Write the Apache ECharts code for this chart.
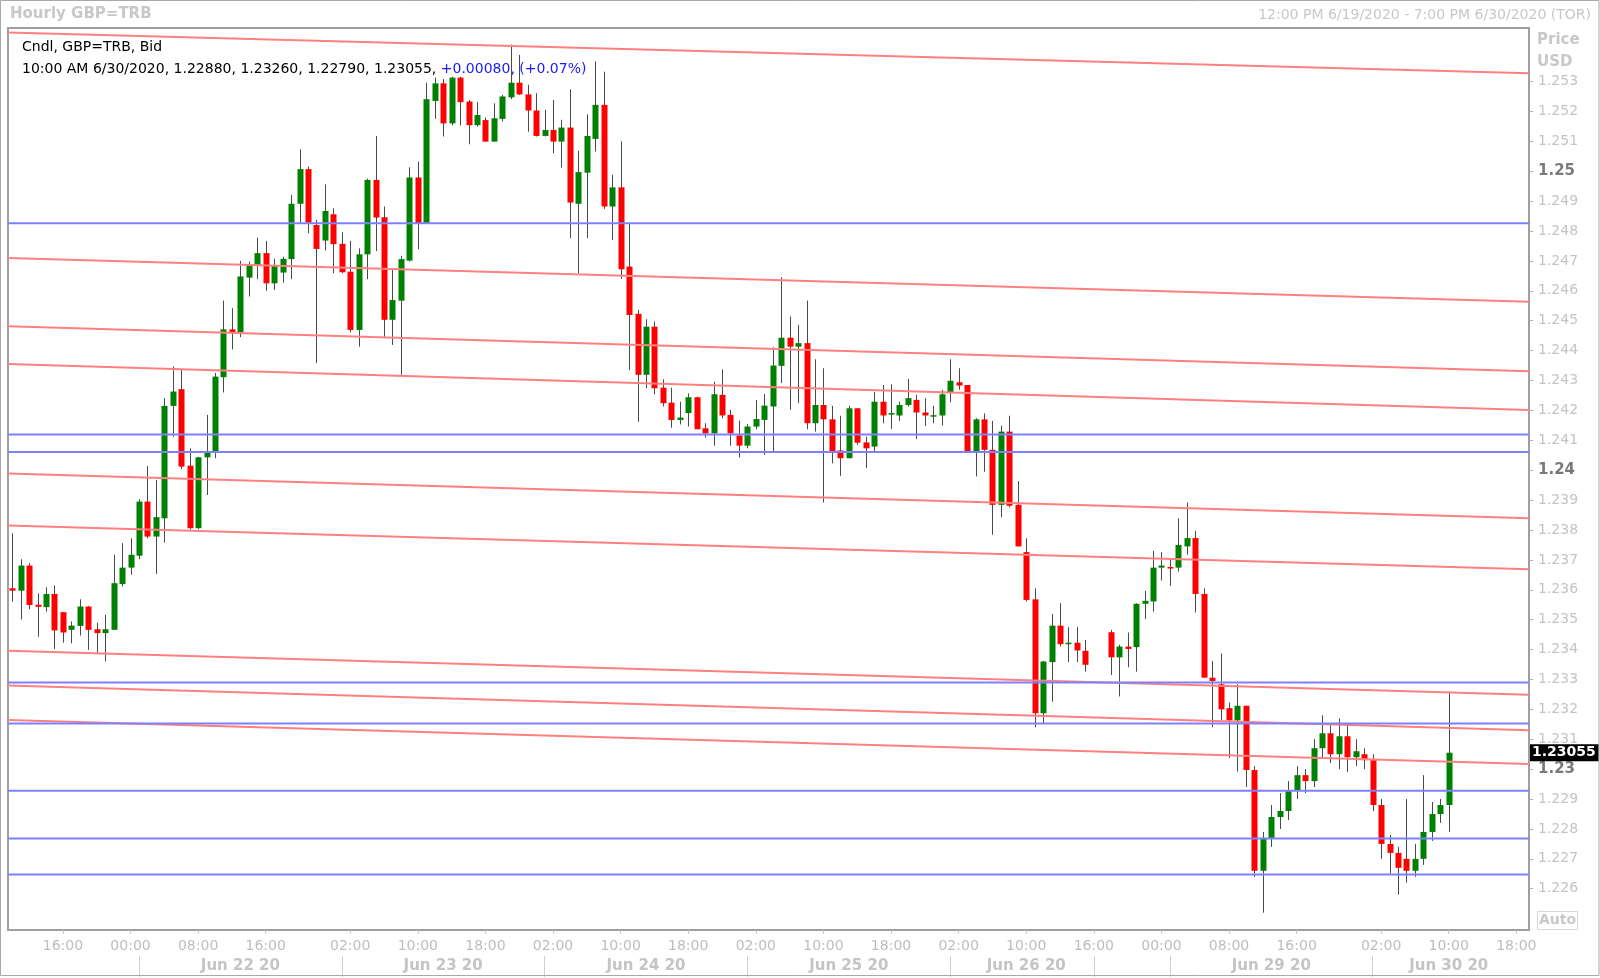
<!DOCTYPE html>
<html><head><meta charset="utf-8">
<script src="https://cdn.jsdelivr.net/npm/echarts@6/dist/echarts.min.js"></script>
<style>html,body{margin:0;padding:0;background:#fff}#c{width:1600px;height:978px}</style>
</head><body><div id="c"></div>
<script>
// ---- data (hourly slots; null = empty weekend slot) ----
const open = [
1.23605,1.23597,1.23681,1.23550,1.23542,1.23586,1.23525,1.23466,1.23479,1.23544,
1.23468,1.23455,1.23466,1.23619,1.23674,1.23714,1.23895,1.23778,1.23839,1.24215,
1.24271,1.24015,1.23806,1.24043,1.24059,1.24311,1.24471,1.24461,1.24644,1.24686,
1.24726,1.24625,1.24661,1.24706,1.24891,1.25007,1.24820,1.24768,1.24856,1.24757,
1.24664,1.24469,1.24722,1.24971,1.24846,1.24503,1.24567,1.24701,1.24979,1.24826,
1.25235,1.25294,1.25160,1.25313,1.25233,1.25154,1.25171,1.25099,1.25175,1.25247,
1.25296,1.25257,1.25203,1.25118,1.25138,1.25099,1.25146,1.24891,1.24995,1.25108,
1.25222,1.24882,1.24946,1.24681,1.24523,1.24319,1.24480,1.24276,1.24226,1.24168,
1.24191,1.24244,1.24140,1.24123,1.24252,1.24185,1.24116,1.24082,1.24146,1.24168,
1.24213,1.24349,1.24443,1.24413,1.24425,1.24157,1.24218,1.24170,1.24066,1.24040,
1.24207,1.24093,1.24079,1.24229,1.24190,1.24183,1.24218,1.24235,1.24193,1.24184,
1.24183,1.24261,1.24294,1.24285,1.24062,1.24170,1.24068,1.23884,1.24129,1.23884,
1.23726,1.23568,1.23187,1.23358,1.23480,1.23419,1.23423,1.23396,null,null,
1.23458,1.23374,1.23410,1.23408,1.23553,1.23561,1.23674,1.23676,1.23674,1.23745,
1.23773,1.23586,1.23306,1.23284,1.23204,1.23163,1.23212,1.22997,1.22660,1.22770,
1.22840,1.22860,1.22930,1.22980,1.22960,1.23070,1.23120,1.23050,1.23110,1.23040,
1.23050,1.23030,1.22880,1.22750,1.22720,1.22700,1.22660,1.22700,1.22790,1.22850,
1.22880];
const close = [
1.23597,1.23681,1.23549,1.23543,1.23586,1.23464,1.23457,1.23480,1.23544,1.23466,
1.23455,1.23468,1.23622,1.23674,1.23717,1.23895,1.23778,1.23843,1.24215,1.24263,
1.24012,1.23806,1.24043,1.24059,1.24313,1.24471,1.24460,1.24648,1.24686,1.24726,
1.24625,1.24686,1.24707,1.24891,1.25007,1.24828,1.24740,1.24867,1.24756,1.24662,
1.24469,1.24722,1.24971,1.24845,1.24503,1.24569,1.24706,1.24979,1.24826,1.25241,
1.25294,1.25160,1.25313,1.25231,1.25154,1.25188,1.25099,1.25177,1.25250,1.25296,
1.25257,1.25203,1.25118,1.25138,1.25099,1.25146,1.24895,1.24997,1.25118,1.25222,
1.24882,1.24946,1.24672,1.24519,1.24319,1.24480,1.24274,1.24224,1.24168,1.24176,
1.24244,1.24137,1.24123,1.24254,1.24183,1.24123,1.24082,1.24146,1.24171,1.24216,
1.24350,1.24443,1.24413,1.24425,1.24157,1.24218,1.24170,1.24062,1.24040,1.24207,
1.24092,1.24073,1.24229,1.24183,1.24191,1.24218,1.24241,1.24193,1.24183,1.24184,
1.24254,1.24299,1.24283,1.24062,1.24170,1.24068,1.23884,1.24129,1.23881,1.23745,
1.23566,1.23187,1.23360,1.23480,1.23418,1.23423,1.23397,1.23349,null,null,
1.23374,1.23410,1.23402,1.23553,1.23563,1.23674,1.23681,1.23675,1.23750,1.23773,
1.23586,1.23306,1.23295,1.23200,1.23163,1.23212,1.22997,1.22660,1.22770,1.22840,
1.22860,1.22930,1.22980,1.22960,1.23070,1.23120,1.23050,1.23110,1.23040,1.23060,
1.23030,1.22880,1.22750,1.22720,1.22670,1.22660,1.22700,1.22790,1.22850,1.22880,
1.23055];
const low = [
1.23560,1.23501,1.23535,1.23443,1.23527,1.23402,1.23423,1.23421,1.23447,1.23399,
1.23388,1.23360,1.23466,1.23611,1.23650,1.23702,1.23772,1.23653,1.23758,1.24112,
1.24004,1.23802,1.23802,1.23917,1.24040,1.24260,1.24404,1.24445,1.24581,1.24639,
1.24600,1.24603,1.24627,1.24639,1.24828,1.24792,1.24358,1.24735,1.24659,1.24659,
1.24461,1.24413,1.24639,1.24733,1.24445,1.24419,1.24319,1.24698,1.24739,1.24826,
1.25175,1.25116,1.25153,1.25153,1.25090,1.25149,1.25099,1.25099,1.25166,1.25241,
1.25255,1.25132,1.25116,1.25116,1.25060,1.25012,1.24776,1.24659,1.24776,1.25066,
1.24874,1.24770,1.24640,1.24335,1.24162,1.24274,1.24254,1.24213,1.24142,1.24153,
1.24146,1.24137,1.24109,1.24082,1.24174,1.24082,1.24042,1.24073,1.24137,1.24051,
1.24060,1.24291,1.24202,1.24224,1.24137,1.24129,1.23892,1.24023,1.23981,1.24040,
1.24085,1.24007,1.24062,1.24157,1.24138,1.24165,1.24213,1.24104,1.24148,1.24157,
1.24149,1.24227,1.24269,1.24062,1.23979,1.23995,1.23784,1.23843,1.23876,1.23745,
1.23561,1.23140,1.23154,1.23226,1.23410,1.23358,1.23358,1.23326,null,null,
1.23315,1.23243,1.23341,1.23326,1.23502,1.23527,1.23631,1.23613,1.23661,1.23717,
1.23524,1.23306,1.23140,1.23163,1.23037,1.22992,1.22940,1.22640,1.22520,1.22740,
1.22800,1.22830,1.22900,1.22920,1.22940,1.23040,1.23020,1.23000,1.22990,1.23010,
1.23000,1.22860,1.22700,1.22650,1.22580,1.22620,1.22640,1.22680,1.22760,1.22820,
1.22790];
const high = [
1.23789,1.23702,1.23689,1.23588,1.23608,1.23615,1.23525,1.23494,1.23568,1.23546,
1.23490,1.23516,1.23717,1.23756,1.23772,1.23903,1.24014,1.23967,1.24241,1.24347,
1.24335,1.24073,1.24045,1.24185,1.24325,1.24567,1.24542,1.24700,1.24698,1.24778,
1.24767,1.24707,1.24714,1.24921,1.25073,1.25016,1.24837,1.24956,1.24876,1.24796,
1.24767,1.24742,1.24975,1.25118,1.24882,1.24670,1.24717,1.25013,1.25032,1.25296,
1.25313,1.25308,1.25316,1.25316,1.25238,1.25231,1.25180,1.25227,1.25255,1.25423,
1.25389,1.25289,1.25261,1.25205,1.25238,1.25172,1.25274,1.25068,1.25190,1.25367,
1.25333,1.24988,1.25100,1.24826,1.24536,1.24505,1.24497,1.24304,1.24276,1.24229,
1.24257,1.24246,1.24157,1.24296,1.24337,1.24202,1.24166,1.24154,1.24235,1.24255,
1.24411,1.24645,1.24514,1.24486,1.24567,1.24371,1.24341,1.24215,1.24182,1.24215,
1.24207,1.24112,1.24261,1.24285,1.24287,1.24229,1.24305,1.24252,1.24241,1.24215,
1.24269,1.24371,1.24341,1.24285,1.24174,1.24190,1.24165,1.24149,1.24182,1.23964,
1.23772,1.23605,1.23362,1.23519,1.23555,1.23475,1.23475,1.23432,null,null,
1.23466,1.23416,1.23457,1.23555,1.23596,1.23730,1.23726,1.23700,1.23839,1.23892,
1.23797,1.23605,1.23362,1.23387,1.23223,1.23284,1.23212,1.23010,1.22790,1.22880,
1.22920,1.22960,1.23010,1.23000,1.23100,1.23180,1.23150,1.23170,1.23150,1.23100,
1.23070,1.23050,1.22900,1.22780,1.22740,1.22900,1.22750,1.22980,1.22890,1.22900,
1.23260];

const slotCount = 180;
const timeTickSlots = [6,14,22,30,40,48,56,64,72,80,88,96,104,112,120,128,136,144,152,162,170,178];
const timeTickText  = ['16:00','00:00','08:00','16:00','02:00','10:00','18:00','02:00','10:00','18:00','02:00',
                       '10:00','18:00','02:00','10:00','16:00','00:00','08:00','16:00','02:00','10:00','18:00'];
const dayLabelSlots = [27,51,75,99,120,149,170];
const dayLabelText  = ['Jun 22 20','Jun 23 20','Jun 24 20','Jun 25 20','Jun 26 20','Jun 29 20','Jun 30 20'];
const daySeparatorSlots = [15,39,63,87,111,128,137,161];
const yTicks = [1.226,1.227,1.228,1.229,1.23,1.231,1.232,1.233,1.234,1.235,1.236,1.237,1.238,1.239,
                1.24,1.241,1.242,1.243,1.244,1.245,1.246,1.247,1.248,1.249,1.25,1.251,1.252,1.253];
const supportLevels = [1.24826,1.24119,1.24061,1.23290,1.23153,1.22928,1.22768,1.22648];
const trendStart = [1.25464,1.24710,1.24481,1.24355,1.23989,1.23815,1.23396,1.23280,1.23164];
const trendEnd   = [1.25328,1.24563,1.24331,1.24201,1.23839,1.23669,1.23249,1.23130,1.23017];
const lastBarTime = '10:00 AM 6/30/2020';
const changeText = '+0.00080, (+0.07%)';

// ---- build ----
const categories = Array.from({length: slotCount}, (_, i) => 's' + i);
const timeMap = {}; timeTickSlots.forEach((s, k) => timeMap[s] = timeTickText[k]);
const dayMap = {}; dayLabelSlots.forEach((s, k) => dayMap[s] = dayLabelText[k]);
const sepSet = new Set(daySeparatorSlots);
const candleData = [];
for (let i = 0; i < open.length; i++) {
  if (open[i] == null) continue;
  candleData.push([i, open[i], close[i], low[i], high[i]]);
}
const li = open.length - 1;
const lastClose = close[li];
const FONT = '"DejaVu Sans", sans-serif';

const series = [{
  type: 'custom', xAxisIndex: 0, yAxisIndex: 0, z: 2,
  encode: {x: 0, y: [1, 2, 3, 4]},
  data: candleData,
  renderItem: function (params, api) {
    const x = api.value(0), o = api.value(1), c = api.value(2), l = api.value(3), h = api.value(4);
    const pO = api.coord([x, o]), pC = api.coord([x, c]), pL = api.coord([x, l]), pH = api.coord([x, h]);
    const bw = Math.round(api.size([1, 0])[0] * 0.76);
    const cx = Math.round(pO[0]);
    const top = Math.min(pO[1], pC[1]);
    const bh = Math.max(Math.abs(pO[1] - pC[1]), 1.5);
    const up = c >= o;
    return {type: 'group', children: [
      {type: 'line', shape: {x1: cx + 0.5, y1: pH[1], x2: cx + 0.5, y2: pL[1]}, style: {stroke: '#4a4a4a', lineWidth: 1}},
      {type: 'rect', shape: {x: cx + 0.5 - bw / 2, y: top, width: bw, height: bh}, style: {fill: up ? '#008000' : '#ff0000'}}
    ]};
  }
}];
trendStart.forEach((v, k) => series.push({
  type: 'line', xAxisIndex: 2, yAxisIndex: 0, z: 3, silent: true, symbol: 'none',
  lineStyle: {color: '#ff8080', width: 2}, data: [[-0.5, v], [slotCount - 0.5, trendEnd[k]]]
}));
supportLevels.forEach(v => series.push({
  type: 'line', xAxisIndex: 2, yAxisIndex: 0, z: 3, silent: true, symbol: 'none',
  lineStyle: {color: '#8080ff', width: 2}, data: [[-0.5, v], [slotCount - 0.5, v]]
}));
// current price tag on the right axis
series.push({
  type: 'line', xAxisIndex: 2, yAxisIndex: 0, z: 5, silent: true, symbol: 'none',
  lineStyle: {width: 0, opacity: 0}, data: [[-0.5, lastClose], [slotCount - 0.5, lastClose]],
  markLine: {silent: true, symbol: 'none', precision: 5, lineStyle: {width: 0, color: 'rgba(0,0,0,0)'},
    label: {show: true, position: 'end', distance: 1, formatter: () => lastClose.toFixed(5),
      color: '#fff', backgroundColor: '#000', fontFamily: FONT, fontWeight: 'bold', fontSize: 14, padding: [2, 3, 1, 2]},
    data: [{yAxis: lastClose}]}
});

const option = {
  animation: false,
  backgroundColor: '#fff',
  grid: {left: 8, right: 71, top: 28, bottom: 48, show: true, borderColor: '#a0a0a0', borderWidth: 2, backgroundColor: '#fff'},
  title: [
    {text: 'Hourly GBP=TRB', left: 10, top: 7, padding: 0, textStyle: {fontFamily: FONT, fontSize: 15, fontWeight: 'bold', color: '#c8c8c8'}},
    {text: '12:00 PM 6/19/2020 - 7:00 PM 6/30/2020 (TOR)', right: 9, top: 8, padding: 0, textStyle: {fontFamily: FONT, fontSize: 14, fontWeight: 'normal', color: '#c8c8c8'}},
    {text: 'Price\nUSD', left: 1537, top: 29, padding: 0, textStyle: {fontFamily: FONT, fontSize: 15, fontWeight: 'bold', color: '#c8c8c8', lineHeight: 22}},
    {text: 'Cndl, GBP=TRB, Bid', left: 22, top: 40, padding: 0, textStyle: {fontFamily: FONT, fontSize: 14, fontWeight: 'normal', color: '#000'}},
    {text: '{a|' + lastBarTime + ', ' + [open[li], high[li], low[li], close[li]].map(v => v.toFixed(5)).join(', ') + ', }{b|' + changeText + '}',
     left: 22, top: 62, padding: 0,
     textStyle: {fontFamily: FONT, fontSize: 14, fontWeight: 'normal', color: '#000',
       rich: {a: {fontFamily: FONT, fontSize: 14, color: '#000'}, b: {fontFamily: FONT, fontSize: 14, color: '#1a1aff'}}}}
  ],
  xAxis: [
    {type: 'category', data: categories, boundaryGap: true, gridIndex: 0,
     axisLine: {show: false, onZero: false},
     axisTick: {show: true, alignWithLabel: true, length: 4, interval: (i) => timeMap[i] !== undefined, lineStyle: {color: '#c8c8c8'}},
     axisLabel: {show: true, interval: (i) => timeMap[i] !== undefined, formatter: (v, i) => timeMap[i] || '',
       color: '#bdbdbd', fontFamily: FONT, fontSize: 14, margin: 9},
     splitLine: {show: false}},
    {type: 'category', data: categories, boundaryGap: true, gridIndex: 0, position: 'bottom', offset: 26,
     axisLine: {show: false, onZero: false},
     axisTick: {show: true, alignWithLabel: true, length: 21, interval: (i) => sepSet.has(i), lineStyle: {color: '#d0d0d0'}},
     axisLabel: {show: true, interval: (i) => dayMap[i] !== undefined, formatter: (v, i) => dayMap[i] || '',
       color: '#c4c4c4', fontFamily: FONT, fontSize: 15, fontWeight: 'bold', margin: 3},
     splitLine: {show: false}},
    {type: 'value', min: -0.5, max: slotCount - 0.5, show: false, gridIndex: 0}
  ],
  yAxis: [{
    type: 'value', position: 'right', min: 1.22462, max: 1.25479, scale: true,
    axisLine: {show: false, onZero: false}, splitLine: {show: false},
    axisTick: {show: true, length: 4, customValues: yTicks, lineStyle: {color: '#b0b0b0'}},
    axisLabel: {show: true, customValues: yTicks, margin: 9, fontFamily: FONT, fontSize: 14, color: '#c4c4c4',
      formatter: (v) => {
        const s = String(Math.round(v * 1000) / 1000);
        return Math.abs(v * 100 - Math.round(v * 100)) < 1e-6 ? '{b|' + s + '}' : s;
      },
      rich: {b: {fontFamily: FONT, fontSize: 15, fontWeight: 'bold', color: '#7a7a7a'}}}
  }],
  graphic: [
    {type: 'rect', silent: true, shape: {x: 0.5, y: 0.5, width: 1598.5, height: 975}, style: {fill: null, stroke: '#a8a8a8', lineWidth: 1}, z: 100},
    {type: 'rect', silent: true, shape: {x: 1537.5, y: 911.5, width: 40, height: 18}, style: {fill: '#fff', stroke: '#d8d8d8', lineWidth: 1}, z: 100},
    {type: 'text', silent: true, x: 1557.5, y: 920.5, z: 101, style: {text: 'Auto', fill: '#c8c8c8', font: 'bold 14px ' + FONT, textAlign: 'center', textVerticalAlign: 'middle'}}
  ],
  series: series
};
const chart = echarts.init(document.getElementById('c'), null, {renderer: 'canvas'});
chart.setOption(option);
</script></body></html>
